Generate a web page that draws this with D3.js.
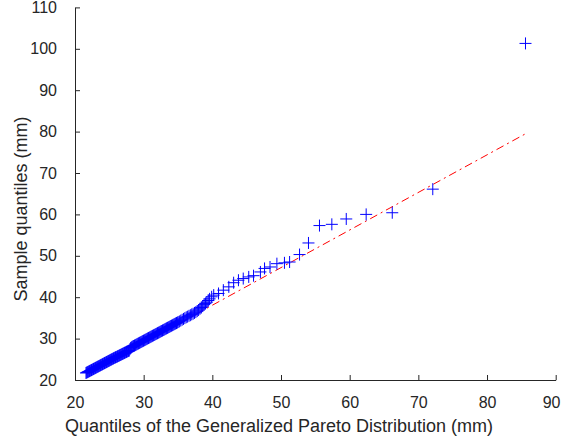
<!DOCTYPE html>
<html>
<head>
<meta charset="utf-8">
<script src="https://cdn.jsdelivr.net/npm/d3@7"></script>
<style>
html,body{margin:0;padding:0;background:#fff;}
svg{display:block;}
text{font-family:"Liberation Sans",Arial,Helvetica,sans-serif;fill:#262626;}
</style>
</head>
<body>
<svg id="chart" width="561" height="442"></svg>
<script>
// Theoretical quantiles (GPD) and sample quantiles
const theoQ = [
 21.6,21.7,21.8,21.9,22.0,22.1,22.2,22.3,22.4,22.5,22.6,22.7,22.8,22.9,23.0,23.1,23.2,23.3,23.4,23.5,
 23.6,23.7,23.8,23.9,24.0,24.1,24.2,24.3,24.4,24.5,24.6,24.7,24.8,24.9,25.0,25.1,25.2,25.3,25.4,25.5,
 25.6,25.7,25.8,25.9,26.0,26.1,26.2,26.3,26.4,26.5,26.6,26.7,26.8,26.9,27.0,27.1,27.2,27.3,27.4,27.5,
 27.6,27.7,27.8,27.9,28.0,28.1,28.2,28.3,
 28.42,28.54,28.66,28.78,28.90,29.02,29.14,29.26,29.38,29.50,29.62,29.74,29.86,29.98,30.10,30.22,30.34,30.46,30.58,30.70,
 30.82,30.94,31.06,31.18,31.30,31.42,31.54,31.66,31.78,31.90,32.02,32.14,32.26,32.38,32.50,32.62,32.74,32.86,32.98,33.10,
 33.22,33.34,33.46,33.58,33.70,33.82,33.94,34.06,34.18,34.30,34.42,34.54,34.66,34.78,34.90,35.02,
 35.2,35.4,35.6,35.8,36.0,36.2,36.4,36.6,36.8,37.0,37.2,37.4,37.6,37.8,38.0,38.2,38.4,38.6,38.8,39.0,
 39.2,39.4,39.6,39.9,
 40.2,40.9,41.6,42.4,43.1,43.8,44.5,45.3,46.0,47.0,47.6,48.4,49.4,50.5,51.25,52.7,54.0,55.6,57.4,59.5,
 62.4,66.2,72.1,85.6
];
const sampleQ = [
 21.70,21.79,21.88,21.96,22.05,22.14,22.23,22.32,22.40,22.49,22.58,22.67,22.76,22.84,22.93,23.02,23.11,23.20,23.28,23.37,
 23.46,23.55,23.64,23.72,23.81,23.90,23.99,24.08,24.16,24.25,24.34,24.43,24.52,24.60,24.69,24.78,24.87,24.96,25.04,25.13,
 25.22,25.31,25.40,25.48,25.54,25.62,25.71,25.79,25.88,25.96,26.04,26.13,26.21,26.30,26.38,26.46,26.55,26.63,26.72,26.80,
 26.88,26.97,27.05,27.10,27.45,27.70,27.85,28.00,
 28.11,28.21,28.32,28.43,28.53,28.64,28.75,28.85,28.96,29.07,29.17,29.28,29.39,29.49,29.60,29.71,29.81,29.92,30.03,30.13,
 30.24,30.35,30.46,30.56,30.67,30.78,30.88,30.99,31.10,31.20,31.31,31.42,31.52,31.63,31.74,31.84,31.95,32.06,32.16,32.27,
 32.38,32.48,32.59,32.70,32.80,32.91,33.02,33.12,33.23,33.34,33.44,33.55,33.66,33.76,33.87,34.00,
 34.15,34.35,34.55,34.75,34.95,35.15,35.30,35.50,35.65,35.85,36.00,36.20,36.40,36.65,36.90,37.20,37.50,37.85,38.20,38.50,
 38.80,39.20,39.60,40.10,
 40.5,40.9,41.7,42.5,43.5,44.1,44.5,44.9,45.2,46.1,46.95,47.3,48.1,48.3,48.5,50.3,53.1,57.3,57.6,58.9,
 60.0,60.4,66.1,101.3
];
// Reference (fit) line end points
const fitX = [21.6, 85.6];
const fitY = [21.36, 79.47];

const xTicks = [20,30,40,50,60,70,80,90];
const yTicks = [20,30,40,50,60,70,80,90,100,110];
const xLabel = "Quantiles of the Generalized Pareto Distribution (mm)";
const yLabel = "Sample quantiles (mm)";

const svg = d3.select("#chart");
const L = 75, R = 555.7, T = 7.4, B = 380;
const x = d3.scaleLinear().domain([20,90]).range([L,R]);
const y = d3.scaleLinear().domain([20,110]).range([B,T]);
const axisColor = "#262626";

// fit line
svg.append("path")
  .attr("d", d3.line()(fitX.map((v,i)=>[x(v), y(fitY[i])])))
  .attr("stroke","#ff0000").attr("stroke-width",1)
  .attr("stroke-dasharray","8,4,2,4").attr("fill","none");

// markers
const s = 6;
svg.append("g").selectAll("path").data(theoQ).join("path")
  .attr("d",(d,i)=>{const cx=x(d), cy=y(sampleQ[i]);
     return `M${cx-s},${cy}H${cx+s}M${cx},${cy-s}V${cy+s}`;})
  .attr("stroke","#0000ff").attr("stroke-width",1).attr("fill","none");

// axes
const gx = svg.append("g").attr("transform",`translate(0,${B})`)
  .call(d3.axisBottom(x).tickValues(xTicks).tickSizeInner(-5).tickSizeOuter(0).tickPadding(17));
const gy = svg.append("g").attr("transform",`translate(${L},0)`)
  .call(d3.axisLeft(y).tickValues(yTicks).tickSizeInner(-5).tickSizeOuter(0).tickPadding(18));
[gx,gy].forEach(g=>{
  g.select(".domain").attr("stroke",axisColor);
  g.selectAll(".tick line").attr("stroke",axisColor);
  g.selectAll(".tick text").attr("fill",axisColor)
    .style("font-family",'"Liberation Sans",Arial,sans-serif').style("font-size","16px");
});
// keep the last x tick label inside the window
gx.selectAll(".tick text").filter(d=>d===90)
  .attr("text-anchor","end").attr("x", 560 - x(90));

svg.append("text").attr("x",279).attr("y",431.5).attr("text-anchor","middle")
  .style("font-size","18px").text(xLabel);
svg.append("text").attr("transform","translate(26.7,209) rotate(-90)").attr("text-anchor","middle")
  .style("font-size","18px").text(yLabel);
</script>
</body>
</html>
